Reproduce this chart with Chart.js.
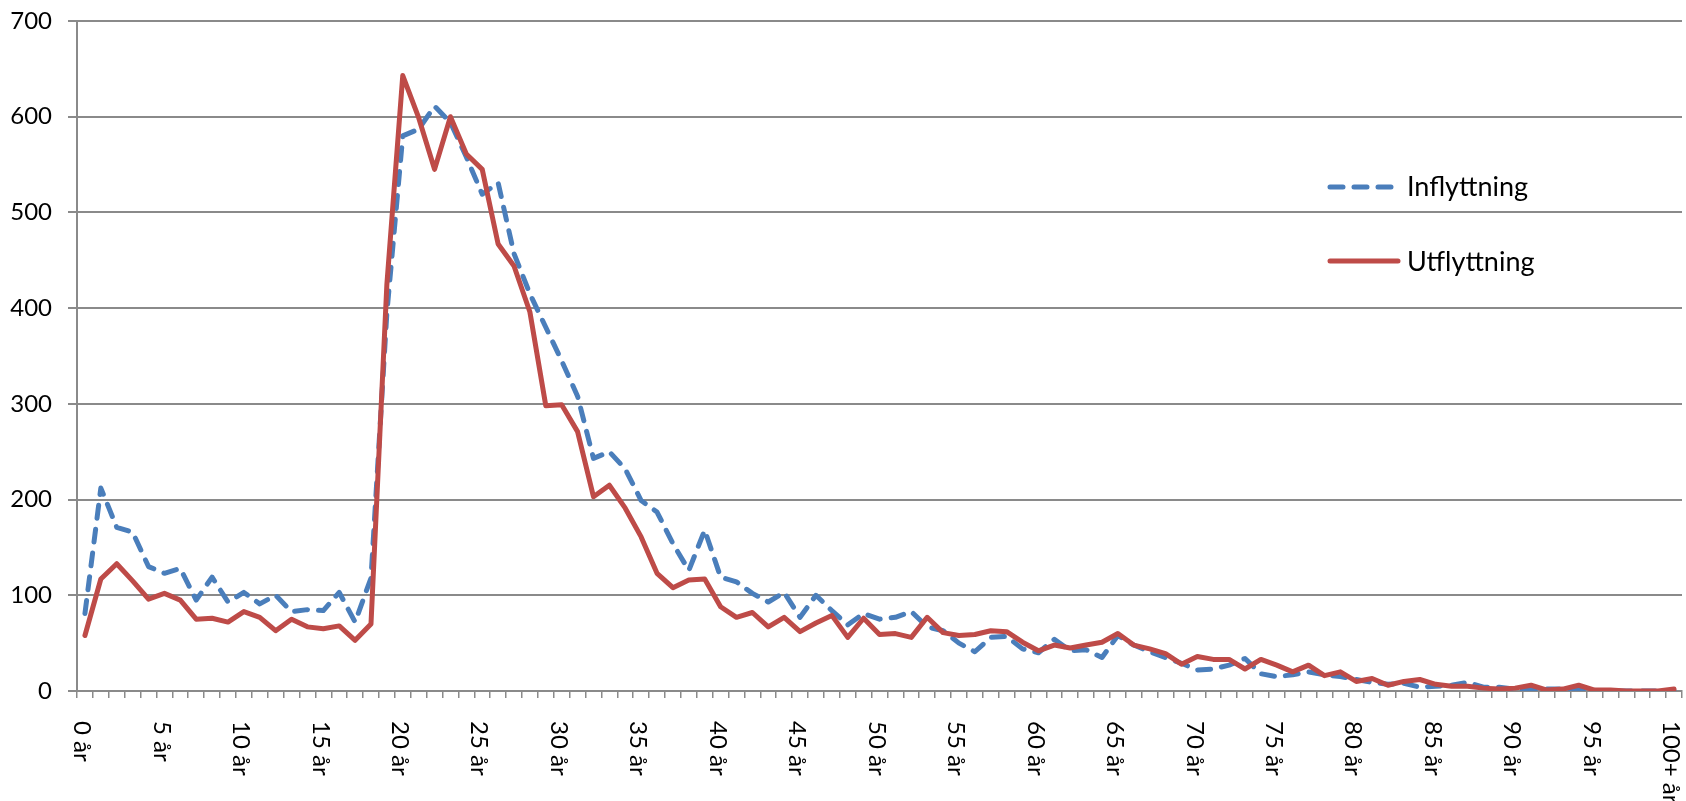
<!DOCTYPE html>
<html><head><meta charset="utf-8">
<script src="https://cdn.jsdelivr.net/npm/chart.js@4/dist/chart.umd.min.js"></script>
<style>html,body{margin:0;padding:0;background:#fff;overflow:hidden}#wrap{width:1686px;height:801px}</style>
</head><body><div id="wrap"><canvas id="c" width="1686" height="801"></canvas></div>
<script>
const categories = ['0 år','1 år','2 år','3 år','4 år','5 år','6 år','7 år','8 år','9 år',
 '10 år','11 år','12 år','13 år','14 år','15 år','16 år','17 år','18 år','19 år',
 '20 år','21 år','22 år','23 år','24 år','25 år','26 år','27 år','28 år','29 år',
 '30 år','31 år','32 år','33 år','34 år','35 år','36 år','37 år','38 år','39 år',
 '40 år','41 år','42 år','43 år','44 år','45 år','46 år','47 år','48 år','49 år',
 '50 år','51 år','52 år','53 år','54 år','55 år','56 år','57 år','58 år','59 år',
 '60 år','61 år','62 år','63 år','64 år','65 år','66 år','67 år','68 år','69 år',
 '70 år','71 år','72 år','73 år','74 år','75 år','76 år','77 år','78 år','79 år',
 '80 år','81 år','82 år','83 år','84 år','85 år','86 år','87 år','88 år','89 år',
 '90 år','91 år','92 år','93 år','94 år','95 år','96 år','97 år','98 år','99 år',
 '100+ år'];
const inflyttning = [81,212,171,166,130,123,128,95,119,93,
 103,91,100,83,85,84,103,72,118,395,
 580,587,611,594,558,519,531,457,415,380,
 345,308,243,250,232,199,187,154,126,168,
 119,114,102,93,103,77,100,84,69,81,
 75,77,83,67,63,50,41,56,57,44,
 40,54,42,43,35,58,48,41,35,29,
 22,23,27,34,18,15,17,20,17,15,
 12,9,7,8,4,5,6,9,4,4,
 2,1,2,2,1,0,0,0,0,0,
 0];
const utflyttning = [58,117,133,115,96,102,95,75,76,72,
 83,77,63,75,67,65,68,53,70,425,
 643,599,545,600,561,545,467,444,396,298,
 299,271,203,215,191,161,123,108,116,117,
 88,77,82,67,77,62,71,79,56,76,
 59,60,56,77,61,58,59,63,62,51,
 42,48,45,48,51,60,48,44,39,28,
 36,33,33,23,33,27,20,27,16,20,
 10,13,6,10,12,7,5,5,3,2,
 3,6,1,2,6,1,1,0,0,0,
 2];
const seriesNames = ['Inflyttning','Utflyttning'];
const labelEvery = 5;
const yMin = 0, yMax = 700, yStep = 100;

const BLUE = '#4A7EBB', RED = '#BE4B48', GRID = '#8a8a8a';
const DASH = [13, 11];

const customDraw = {
  id: 'customDraw',
  afterDraw(chart) {
    const ctx = chart.ctx;
    const xs = chart.scales.x;
    ctx.save();
    ctx.fillStyle = '#000';
    ctx.font = '24px Lato';
    ctx.textAlign = 'left';
    ctx.textBaseline = 'middle';
    categories.forEach((lab, i) => {
      if (i % labelEvery !== 0) return;
      const x = xs.getPixelForValue(i);
      ctx.save();
      ctx.translate(x - 3, 721);
      ctx.rotate(Math.PI / 2);
      ctx.fillText(lab, 0, 0);
      ctx.restore();
    });
    ctx.restore();
    ctx.save();
    ctx.lineWidth = 5;
    ctx.lineCap = 'round';
    ctx.strokeStyle = BLUE;
    ctx.setLineDash(DASH);
    ctx.beginPath(); ctx.moveTo(1330, 187); ctx.lineTo(1398, 187); ctx.stroke();
    ctx.setLineDash([]);
    ctx.strokeStyle = RED;
    ctx.beginPath(); ctx.moveTo(1330, 261); ctx.lineTo(1398, 261); ctx.stroke();
    ctx.fillStyle = '#000';
    ctx.font = '27px Lato';
    ctx.textAlign = 'left';
    ctx.textBaseline = 'alphabetic';
    ctx.fillText(seriesNames[0], 1407, 196);
    ctx.fillText(seriesNames[1], 1407, 271);
    ctx.restore();
  }
};

new Chart(document.getElementById('c'), {
  type: 'line',
  data: {
    labels: categories,
    datasets: [
      {label: seriesNames[0], data: inflyttning, borderColor: BLUE, borderWidth: 5,
       borderDash: DASH, borderCapStyle: 'round', borderJoinStyle: 'round', pointRadius: 0, fill: false, order: 1},
      {label: seriesNames[1], data: utflyttning, borderColor: RED, borderWidth: 5,
       borderCapStyle: 'round', borderJoinStyle: 'round', pointRadius: 0, fill: false, order: 0}
    ]
  },
  options: {
    responsive: false, animation: false, devicePixelRatio: 1,
    layout: {padding: {top: 21, right: 4, left: 0, bottom: 0}},
    plugins: {legend: {display: false}, tooltip: {enabled: false}},
    elements: {line: {tension: 0}},
    scales: {
      x: {
        type: 'category', offset: true,
        grid: {display: true, drawOnChartArea: false, drawTicks: true, tickLength: 7, offset: true, color: GRID, lineWidth: 1.5},
        border: {display: true, color: GRID, width: 2},
        ticks: {display: false, autoSkip: false},
        afterFit: s => { s.height = 110; }
      },
      y: {
        min: yMin, max: yMax,
        ticks: {stepSize: yStep, font: {family: 'Lato', size: 24, lineHeight: 0.3}, color: '#000', padding: 16},
        grid: {color: GRID, lineWidth: 2, tickLength: 9, drawTicks: true},
        border: {display: true, color: GRID, width: 2},
        afterFit: s => { s.width = 77; }
      }
    }
  },
  plugins: [customDraw]
});
</script>
</body></html>
